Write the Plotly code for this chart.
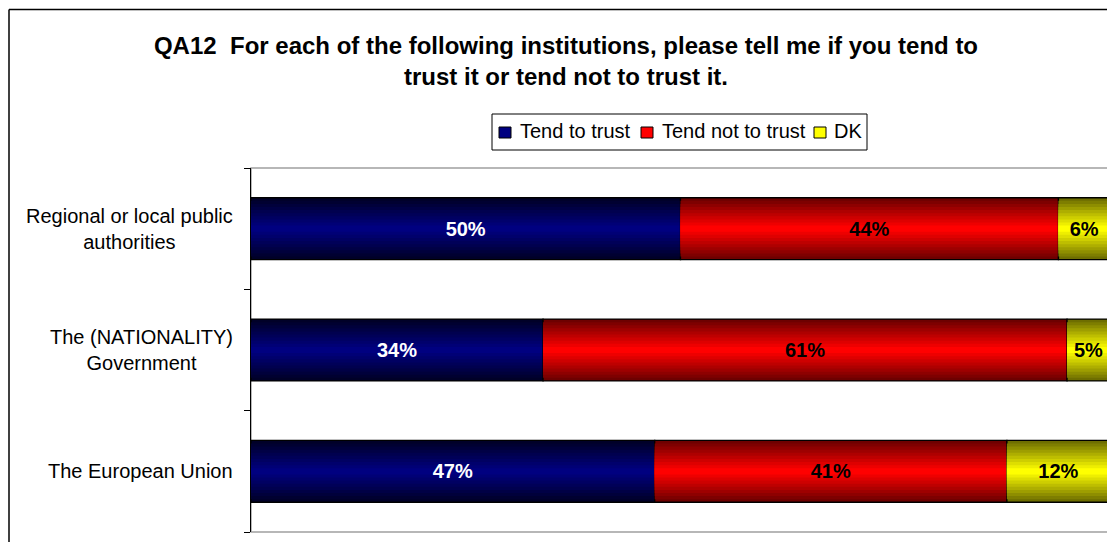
import plotly.graph_objects as go

categories = ["Regional or local public<br>authorities", "The (NATIONALITY)<br>Government", "The European Union"]
series_names = ["Tend to trust", "Tend not to trust", "DK"]
tend_to_trust = [50, 34, 47]
tend_not_to_trust = [44, 61, 41]
dk = [6, 5, 12]

series_values = [tend_to_trust, tend_not_to_trust, dk]
bright = [(0, 0, 128), (255, 0, 0), (255, 255, 0)]
dark = [(0, 0, 40), (110, 0, 0), (110, 110, 0)]
text_colors = ["white", "black", "black"]

FONT = "Liberation Sans, Arial, sans-serif"
W, H = 1107, 534
L, R, T, B = 243, 5, 160, 10
PW, PH = W - L - R, H - T - B


def px(fx):
    return (fx - L) / PW


def py(fy):
    return (H - B - fy) / PH


ypos = list(range(len(categories)))  # 0 at top

fig = go.Figure()

n_layers = 10
bar_w = 0.51
cum = [0] * len(categories)
for si, vals in enumerate(series_values):
    base = cum[:]
    for k in range(n_layers):
        t = k / (n_layers - 1)
        col = tuple(int(dark[si][c] + (bright[si][c] - dark[si][c]) * t) for c in range(3))
        w = bar_w * (1 - k / n_layers)
        fig.add_trace(go.Bar(
            y=ypos, x=vals, base=base, orientation="h", width=w,
            marker=dict(color="rgb(%d,%d,%d)" % col,
                        line=dict(color="black", width=1.3 if k == 0 else 0)),
            showlegend=False, hoverinfo="skip"))
    fig.add_trace(go.Bar(
        y=ypos, x=vals, base=base, orientation="h", width=bar_w,
        name=series_names[si],
        marker=dict(color="rgba(0,0,0,0)", line=dict(width=0)),
        text=[f"{v}%" for v in vals], textposition="inside", insidetextanchor="middle",
        textfont=dict(family=FONT, size=20, color=text_colors[si], weight="bold"),
        showlegend=False, hoverinfo="skip"))
    cum = [a + b for a, b in zip(cum, vals)]

annotations = []
for i, cat in enumerate(categories):
    annotations.append(dict(
        x=px(227), y=ypos[i], xref="paper", yref="y", xanchor="right", yanchor="middle",
        text=cat, showarrow=False, align="center",
        font=dict(family=FONT, size=20, color="black")))

shapes = [
    dict(type="rect", xref="paper", yref="paper", x0=0, x1=1, y0=0, y1=1,
         line=dict(color="#a0a0a0", width=1.5), layer="below"),
    # outer chart border (top and left visible in frame)
    dict(type="line", xref="paper", yref="paper",
         x0=px(1), x1=px(W), y0=py(1.5), y1=py(1.5),
         line=dict(color="black", width=1.5)),
    dict(type="line", xref="paper", yref="paper",
         x0=px(1), x1=px(1), y0=py(1.5), y1=py(H),
         line=dict(color="black", width=1.5)),
    # legend box
    dict(type="rect", xref="paper", yref="paper",
         x0=px(484), x1=px(859), y0=py(142), y1=py(106),
         line=dict(color="black", width=1), fillcolor="white"),
]
sw_x = [491, 633, 806]
tx_x = [510, 652, 824]
for si, name in enumerate(series_names):
    shapes.append(dict(type="rect", xref="paper", yref="paper",
                       x0=px(sw_x[si]), x1=px(sw_x[si] + 12), y0=py(130), y1=py(119),
                       line=dict(color="black", width=1),
                       fillcolor="rgb(%d,%d,%d)" % bright[si]))
    annotations.append(dict(
        x=px(tx_x[si]), y=py(123.5), xref="paper", yref="paper", xanchor="left", yanchor="middle",
        text=name, showarrow=False, font=dict(family=FONT, size=20, color="black")))

fig.update_layout(
    width=W, height=H,
    margin=dict(l=L, r=R, t=T, b=B),
    paper_bgcolor="white", plot_bgcolor="white",
    barmode="overlay",
    showlegend=False,
    title=dict(
        text="<b>QA12  For each of the following institutions, please tell me if you tend to<br>trust it or tend not to trust it.</b>",
        x=558 / W, xanchor="center", y=1 - 46 / H, yanchor="top",
        font=dict(family=FONT, size=24, color="black")),
    xaxis=dict(range=[0, 100], showticklabels=False, showgrid=False, zeroline=False,
               showline=False, ticks="", fixedrange=True),
    yaxis=dict(range=[2.5, -0.5], tickvals=[-0.5, 0.5, 1.5, 2.5], ticktext=["", "", "", ""],
               ticks="outside", ticklen=6, tickcolor="black", showgrid=False,
               zeroline=False, showline=True, linecolor="black", linewidth=1),
    annotations=annotations,
    shapes=shapes,
)

fig.write_html("out.html")
